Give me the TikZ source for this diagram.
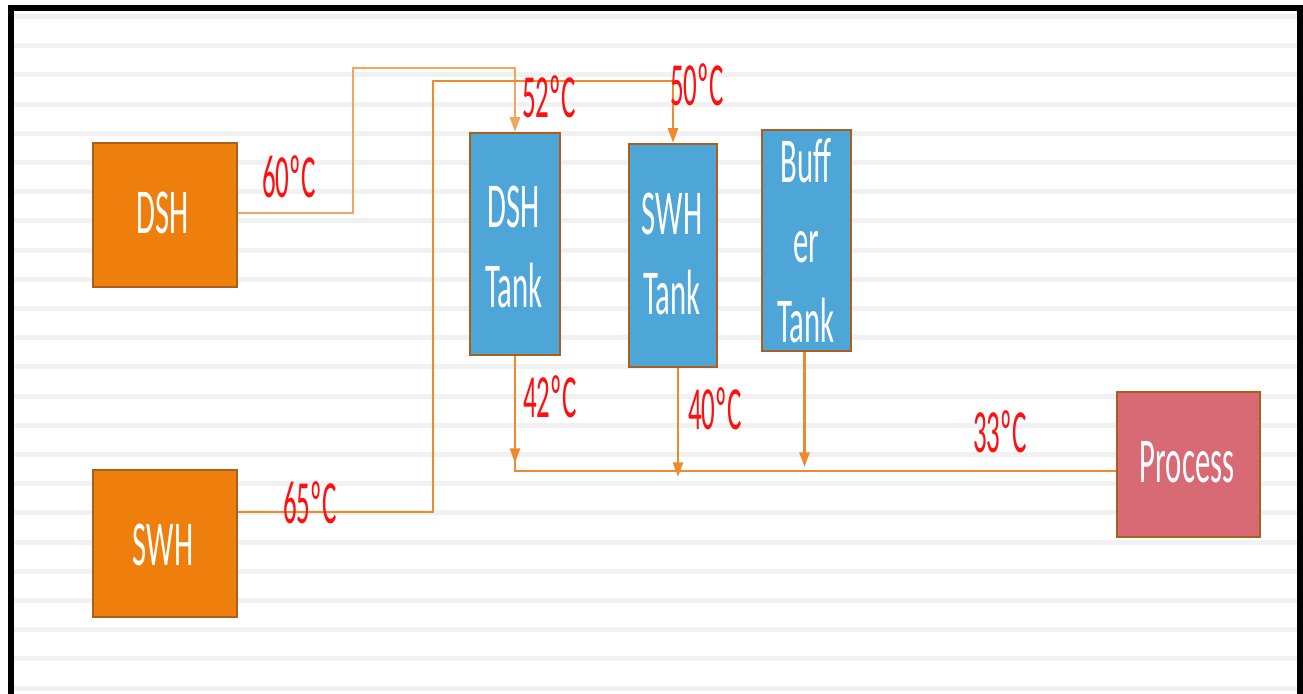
\documentclass[tikz,border=0pt]{standalone}
\usepackage{fontspec}
\setmainfont{Carlito}
\usetikzlibrary{arrows.meta,calc}
\definecolor{boxorange}{HTML}{EE7F0C}
\definecolor{boxedge}{HTML}{A9601C}
\definecolor{tankblue}{HTML}{4EA5D8}
\definecolor{procred}{HTML}{D86A76}
\definecolor{pipecol}{HTML}{EF8A2C}
\definecolor{pipelight}{HTML}{F2A55C}
\definecolor{stripecol}{HTML}{F1F1F1}
\definecolor{labelred}{HTML}{FF1010}
\newcommand{\sq}[1]{\scalebox{0.48}[1]{#1}}
\newcommand{\sqn}[1]{\scalebox{0.44}[1]{#1}}
\newcommand{\stk}[1]{\sq{\begin{tabular}[t]{@{}c@{}}#1\end{tabular}}}
\begin{document}
\begin{tikzpicture}[x=0.75pt,y=-0.75pt,
  heaterbox/.style={draw=boxedge, line width=1.8pt, fill=boxorange, inner sep=0pt},
  tankbox/.style={draw=boxedge, line width=1.8pt, fill=tankblue, inner sep=0pt},
  procbox/.style={draw=boxedge, line width=1.8pt, fill=procred, inner sep=0pt},
  boxtext/.style={anchor=base, inner sep=0pt, text=white, font=\fontsize{48}{60}\selectfont},
  templabel/.style={anchor=base west, inner sep=0pt, text=labelred, font=\fontsize{46}{55}\selectfont},
  pipeline/.style={draw=pipecol, line width=1.9pt},
  flowtip/.style={-{Triangle[length=11pt,width=7.5pt]}},
]
\useasboundingbox (0,0) rectangle (1303,693);
\clip (0,0) rectangle (1303,693);
\fill[white] (0,0) rectangle (1303,693);
% stripes
\foreach \k in {0,...,23}{
  \fill[stripecol] (14,{14+29.2*\k}) rectangle (1297,{19+29.2*\k});
}
% frame
\draw[line width=4.5pt] (11,720) -- (11,8) -- (1299.5,8) -- (1299.5,720);

% boxes
\node[heaterbox, minimum width=108pt, minimum height=108pt] (dsh) at (165,215) {};
\node[heaterbox, minimum width=108pt, minimum height=110.25pt] (swh) at (165,543.5) {};
\node[tankbox, minimum width=67.5pt, minimum height=166.5pt] (dshtank) at (515,244) {};
\node[tankbox, minimum width=66pt, minimum height=167.25pt] (swhtank) at (673,255.5) {};
\node[tankbox, minimum width=66.75pt, minimum height=165.75pt] (buffer) at (806.5,240.5) {};
\node[procbox, minimum width=107.25pt, minimum height=108.75pt] (process) at (1188.5,464.5) {};

% box texts
\node[boxtext] (dshT) at (163,233) {\sq{DSH}};
\node[boxtext] (swhT) at (163,565) {\sq{SWH}};
\node[boxtext] (dshtankT) at (514,227) {\stk{DSH\\Tank}};
\node[boxtext] (swhtankT) at (672,234) {\stk{SWH\\Tank}};
\node[boxtext] (bufferT) at (806,182) {\stk{Buff\\er\\Tank}};
\node[boxtext] (processT) at (1187,482) {\sq{Process}};

% pipes
\coordinate (b1) at (353,68);
\coordinate (b2) at (433,81);
\coordinate (s1) at ($(swh.north east)!0.29!(swh.south east)$);
\coordinate (hy) at (0,471);
\coordinate (h0) at (dshtank.south |- hy);
\coordinate (y1) at (0,463);
\coordinate (y2) at (0,477);
\coordinate (y3) at (0,467);
\coordinate (st) at ([xshift=3.75pt]swhtank.south);
\coordinate (bt) at ([xshift=-1.5pt]buffer.south);

\draw[pipeline, draw=pipelight, flowtip] ([yshift=1.5pt]dsh.east) -| (b1) -| (dshtank.north);
\draw[pipeline, flowtip] (s1) -| (b2) -| (swhtank.north);
\draw[pipeline] (dshtank.south) -- (h0) -- (h0 -| process.west);
\draw[pipeline, flowtip] (dshtank.south) -- (dshtank.south |- y1);
\draw[pipeline, flowtip] (st) -- (st |- y2);
\draw[pipeline, flowtip] (bt) -- (bt |- y3);

% temperature labels
\node[templabel] (l60) at (262,197) {\sqn{60ºC}};
\node[templabel] (l52) at (522,117) {\sqn{52ºC}};
\node[templabel] (l50) at (670,105) {\sqn{50ºC}};
\node[templabel] (l42) at (523,417) {\sqn{42ºC}};
\node[templabel] (l40) at (688,429) {\sqn{40ºC}};
\node[templabel] (l65) at (283,523) {\sqn{65ºC}};
\node[templabel] (l33) at (973,452) {\sqn{33ºC}};
\end{tikzpicture}
\end{document}
